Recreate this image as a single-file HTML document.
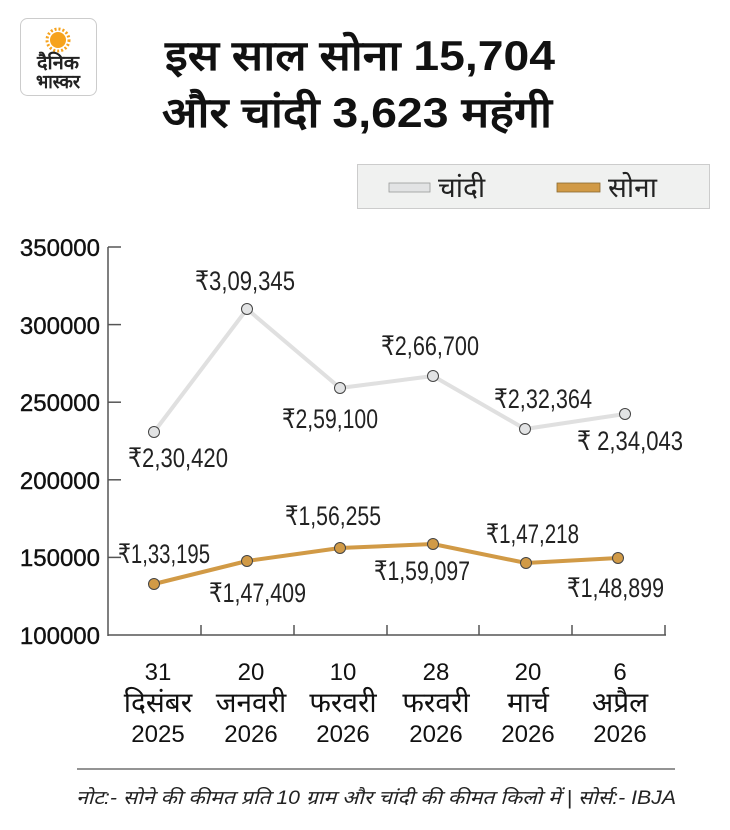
<!DOCTYPE html>
<html><head><meta charset="utf-8"><style>
html,body{margin:0;padding:0;background:#fff;}
body{width:730px;height:830px;overflow:hidden;position:relative;font-family:"Liberation Sans","Noto Sans CJK SC",sans-serif;}
</style></head><body>
<svg width="730" height="830" xmlns="http://www.w3.org/2000/svg" style="position:absolute;left:0;top:0">
<!-- logo -->
<rect x="20.5" y="18.5" width="76" height="77" rx="7" fill="#fff" stroke="#ccc"/>
<circle cx="58" cy="40" r="8" fill="#f6a21c"/>
<circle cx="58" cy="40" r="11" fill="none" stroke="#f6a21c" stroke-width="3" stroke-dasharray="2 2"/>
<text x="58" y="69" font-size="19" font-weight="bold" text-anchor="middle" fill="#222" textLength="42" lengthAdjust="spacingAndGlyphs">दैनिक</text>
<text x="58" y="88" font-size="19" font-weight="bold" text-anchor="middle" fill="#222" textLength="44" lengthAdjust="spacingAndGlyphs">भास्कर</text>
<!-- title -->
<text x="360" y="70" font-size="42" font-weight="bold" text-anchor="middle" fill="#111" textLength="390" lengthAdjust="spacingAndGlyphs">इस साल सोना 15,704</text>
<text x="357" y="127" font-size="42" font-weight="bold" text-anchor="middle" fill="#111" textLength="390" lengthAdjust="spacingAndGlyphs">और चांदी 3,623 महंगी</text>
<!-- legend -->
<rect x="357.5" y="164.5" width="352" height="44" fill="#f0f1f0" stroke="#ccc"/>
<rect x="389" y="183" width="41" height="9" fill="#e2e3e4" stroke="#999" stroke-width="0.8"/>
<text x="438" y="197" font-size="28" fill="#222">चांदी</text>
<rect x="557" y="183" width="43" height="9" fill="#d19a46" stroke="#8a6a30" stroke-width="0.8"/>
<text x="608" y="197" font-size="28" fill="#222">सोना</text>
<!-- axes -->
<g stroke="#555" stroke-width="1.5" fill="none">
<line x1="108" y1="247" x2="108" y2="636"/>
<line x1="108" y1="635" x2="666" y2="635"/>
<line x1="108" y1="247" x2="121" y2="247"/>
<line x1="108" y1="324.6" x2="121" y2="324.6"/>
<line x1="108" y1="402.2" x2="121" y2="402.2"/>
<line x1="108" y1="479.8" x2="121" y2="479.8"/>
<line x1="108" y1="557.4" x2="121" y2="557.4"/>
<line x1="201" y1="625" x2="201" y2="635"/>
<line x1="294" y1="625" x2="294" y2="635"/>
<line x1="387" y1="625" x2="387" y2="635"/>
<line x1="479" y1="625" x2="479" y2="635"/>
<line x1="572" y1="625" x2="572" y2="635"/>
<line x1="665" y1="625" x2="665" y2="635"/>
</g>
<g font-size="24" text-anchor="end" fill="#111" stroke="#111" stroke-width="0.4">
<text x="100" y="256">350000</text>
<text x="100" y="334">300000</text>
<text x="100" y="411">250000</text>
<text x="100" y="489">200000</text>
<text x="100" y="566">150000</text>
<text x="100" y="644">100000</text>
</g>
<!-- series -->
<polyline points="154,432 247,309 340,388 433,376 525,429 625,414" fill="none" stroke="#e0e0e0" stroke-width="4"/>
<polyline points="154,584 247,561 340,548 433,544 526,563 618,558" fill="none" stroke="#d19a46" stroke-width="4"/>
<g fill="#e2e3e4" stroke="#444" stroke-width="1">
<circle cx="154" cy="432" r="5.5"/><circle cx="247" cy="309" r="5.5"/><circle cx="340" cy="388" r="5.5"/><circle cx="433" cy="376" r="5.5"/><circle cx="525" cy="429" r="5.5"/><circle cx="625" cy="414" r="5.5"/>
</g>
<g fill="#d19a46" stroke="#444" stroke-width="1">
<circle cx="154" cy="584" r="5.5"/><circle cx="247" cy="561" r="5.5"/><circle cx="340" cy="548" r="5.5"/><circle cx="433" cy="544" r="5.5"/><circle cx="526" cy="563" r="5.5"/><circle cx="618" cy="558" r="5.5"/>
</g>
<g font-size="27" fill="#222" font-family="'Liberation Sans Narrow','Liberation Sans',sans-serif">
<text x="195" y="290" textLength="100" lengthAdjust="spacingAndGlyphs">₹3,09,345</text>
<text x="128" y="467" textLength="100" lengthAdjust="spacingAndGlyphs">₹2,30,420</text>
<text x="282" y="428" textLength="96" lengthAdjust="spacingAndGlyphs">₹2,59,100</text>
<text x="381" y="355" textLength="98" lengthAdjust="spacingAndGlyphs">₹2,66,700</text>
<text x="494" y="408" textLength="98" lengthAdjust="spacingAndGlyphs">₹2,32,364</text>
<text x="577" y="450" textLength="106" lengthAdjust="spacingAndGlyphs">₹ 2,34,043</text>
<text x="118" y="563" textLength="92" lengthAdjust="spacingAndGlyphs">₹1,33,195</text>
<text x="209" y="602" textLength="97" lengthAdjust="spacingAndGlyphs">₹1,47,409</text>
<text x="285" y="525" textLength="96" lengthAdjust="spacingAndGlyphs">₹1,56,255</text>
<text x="374" y="580" textLength="96" lengthAdjust="spacingAndGlyphs">₹1,59,097</text>
<text x="486" y="543" textLength="93" lengthAdjust="spacingAndGlyphs">₹1,47,218</text>
<text x="567" y="597" textLength="97" lengthAdjust="spacingAndGlyphs">₹1,48,899</text>
</g>
<!-- x labels -->
<g font-size="24" text-anchor="middle" fill="#111">
<text x="158" y="680">31</text><text x="158" y="742">2025</text>
<text x="251" y="680">20</text><text x="251" y="742">2026</text>
<text x="343" y="680">10</text><text x="343" y="742">2026</text>
<text x="436" y="680">28</text><text x="436" y="742">2026</text>
<text x="528" y="680">20</text><text x="528" y="742">2026</text>
<text x="620" y="680">6</text><text x="620" y="742">2026</text>
</g>
<g font-size="28" text-anchor="middle" fill="#111">
<text x="158" y="712">दिसंबर</text>
<text x="251" y="712">जनवरी</text>
<text x="343" y="712">फरवरी</text>
<text x="436" y="712">फरवरी</text>
<text x="528" y="712">मार्च</text>
<text x="620" y="712">अप्रैल</text>
</g>
<line x1="77" y1="769" x2="675" y2="769" stroke="#555" stroke-width="1.2"/>
<text x="376" y="804" font-size="19" font-style="italic" text-anchor="middle" fill="#222" textLength="600" lengthAdjust="spacingAndGlyphs">नोट:- सोने की कीमत प्रति 10 ग्राम और चांदी की कीमत किलो में | सोर्स:- IBJA</text>
</svg>
</body></html>
